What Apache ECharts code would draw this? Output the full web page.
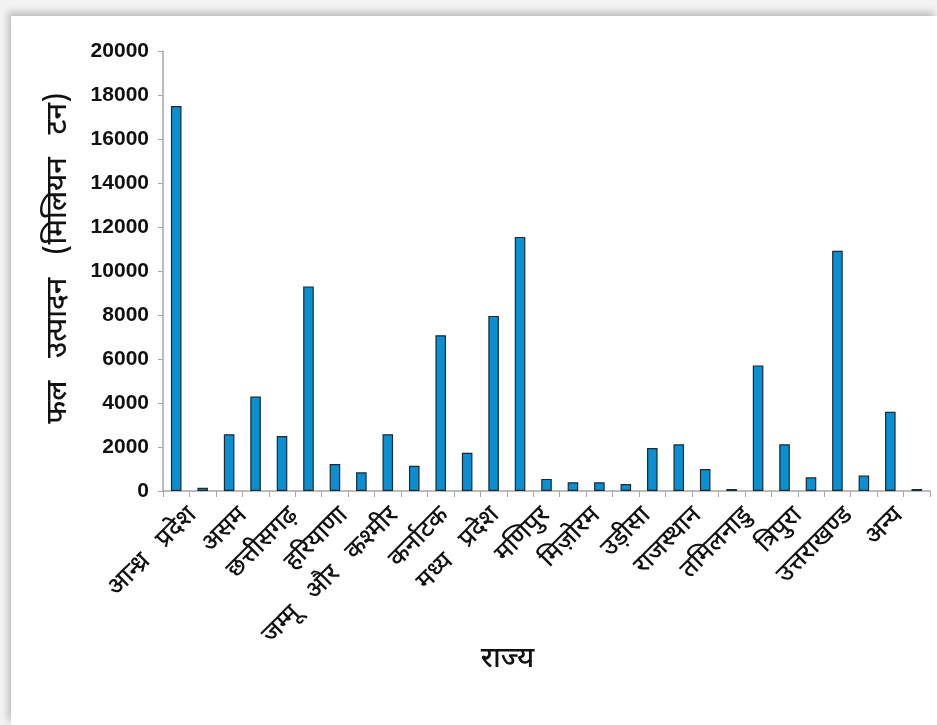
<!DOCTYPE html>
<html>
<head>
<meta charset="utf-8">
<script src="https://cdn.jsdelivr.net/npm/echarts@6/dist/echarts.min.js"></script>
<style>
  html, body { margin: 0; padding: 0; width: 937px; height: 725px; overflow: hidden; background: #f3f3f3; }
  #panel { position: absolute; left: 11px; top: 16px; width: 926px; height: 709px; background: #ffffff;
           box-shadow: -3px -4px 7px rgba(0,0,0,0.22); }
  #chart { position: absolute; left: 0; top: 0; width: 937px; height: 725px; }
</style>
</head>
<body>
<div id="panel"></div>
<div id="chart"></div>
<script>
// State names (every second slot is unlabelled on the axis)
const states = [
  'आन्ध्र   प्रदेश', '', 'असम', '', 'छत्तीसगढ़', '', 'हरियाणा', '', 'जम्मू   और   कश्मीर', '',
  'कर्नाटक', '', 'मध्य   प्रदेश', '', 'मणिपुर', '', 'मिज़ोरम', '', 'उड़ीसा', '',
  'राजस्थान', '', 'तमिलनाडु', '', 'त्रिपुरा', '', 'उत्तराखण्ड', '', 'अन्य'
];
// Fruit production per slot
const production = [
  17500, 150, 2580, 4290, 2500, 9300, 1230, 850, 2580, 1150,
  7080, 1740, 7960, 11550, 550, 400, 400, 320, 1950, 2120,
  1000, 90, 5710, 2120, 620, 10920, 700, 3600, 90
];
const yTicks = { min: 0, max: 20000, step: 2000 };
const yTitle = 'फल   उत्पादन   (मिलियन   टन)';
const xTitle = 'राज्य';

// The named states only, laid out on their own slightly narrower label row
const labelRow = states.filter(s => s !== '');

const devFont = "'Noto Sans Devanagari', 'Lohit Devanagari', 'Mangal', 'Noto Sans', sans-serif";

const chart = echarts.init(document.getElementById('chart'), null, { renderer: 'canvas' });
chart.setOption({
  backgroundColor: 'transparent',
  animation: false,
  grid: [
    { left: 163, right: 7, top: 51, bottom: 234, containLabel: false },
    { left: 160, right: 20, top: 51, bottom: 234, containLabel: false }
  ],
  xAxis: [{
    type: 'category',
    gridIndex: 0,
    data: states,
    boundaryGap: true,
    axisLine: { lineStyle: { color: '#a6a6a6', width: 1.5 } },
    axisTick: { show: true, interval: 0, length: 6, lineStyle: { color: '#a6a6a6' } },
    axisLabel: { show: false },
    name: xTitle,
    nameLocation: 'middle',
    nameGap: 156,
    nameTextStyle: { fontFamily: devFont, fontSize: 29, fontWeight: 500, color: '#111', padding: [0, 78, 0, 0] }
  }, {
    type: 'category',
    gridIndex: 1,
    data: labelRow,
    boundaryGap: true,
    axisLine: { show: false },
    axisTick: { show: false },
    axisLabel: {
      interval: 0, rotate: 45, margin: 13, verticalAlign: 'top',
      fontFamily: devFont, fontSize: 25, fontWeight: 500, color: '#111'
    }
  }],
  yAxis: [{
    type: 'value',
    gridIndex: 0,
    min: yTicks.min, max: yTicks.max, interval: yTicks.step,
    splitLine: { show: false },
    axisLine: { show: true, lineStyle: { color: '#a6a6a6', width: 1.5 } },
    axisTick: { show: true, length: 5, lineStyle: { color: '#a6a6a6' } },
    axisLabel: {
      margin: 14, fontFamily: "'Liberation Sans', Arial, sans-serif",
      fontWeight: 'bold', fontSize: 21, color: '#111',
      formatter: v => String(v)
    },
    name: yTitle,
    nameLocation: 'middle',
    nameGap: 88,
    nameRotate: 90,
    nameTextStyle: { fontFamily: devFont, fontSize: 29, fontWeight: 500, color: '#111', padding: [0, 0, 0, 26] }
  }, {
    type: 'value',
    gridIndex: 1,
    show: false,
    min: yTicks.min, max: yTicks.max
  }],
  series: [{
    type: 'bar',
    xAxisIndex: 0,
    yAxisIndex: 0,
    data: production,
    barWidth: '40%',
    itemStyle: { color: '#0a8fd3', borderColor: '#1b2a33', borderWidth: 1.2 }
  }]
});
</script>
</body>
</html>
